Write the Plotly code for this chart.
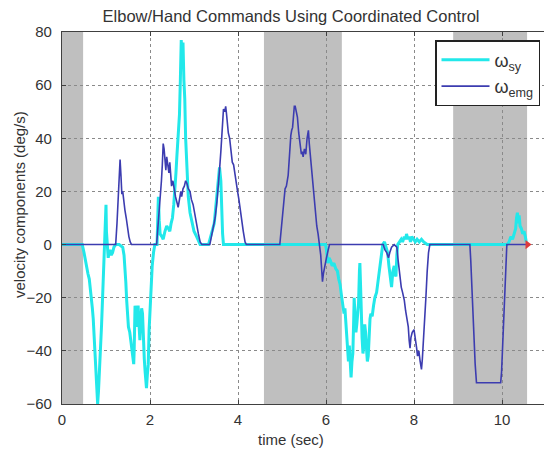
import plotly.graph_objects as go

# ---------------- data ----------------
t_sy = [0.00, 0.46, 0.50, 0.53, 0.56, 0.59, 0.62, 0.65, 0.67, 0.69, 0.71, 0.73, 0.75, 0.77, 0.79, 0.80,
        0.81, 0.83, 0.84, 0.86, 0.88, 0.90, 0.92, 0.94, 0.96, 0.98, 0.99, 1.00, 1.01, 1.03, 1.05, 1.07,
        1.09, 1.12, 1.15, 1.18, 1.22, 1.30, 1.38, 1.41, 1.43, 1.45, 1.47, 1.49, 1.51, 1.54, 1.56, 1.58,
        1.61, 1.63, 1.64, 1.66, 1.68, 1.70, 1.72, 1.73, 1.75, 1.77, 1.79, 1.81, 1.83, 1.85, 1.87, 1.89,
        1.91, 1.92, 1.94, 1.96, 1.98, 2.00, 2.02, 2.05, 2.08, 2.11, 2.16, 2.18, 2.19, 2.21, 2.23, 2.27,
        2.30, 2.34, 2.38, 2.42, 2.45, 2.48, 2.51, 2.54, 2.57, 2.59, 2.61, 2.63, 2.65, 2.67, 2.69, 2.71,
        2.73, 2.75, 2.77, 2.79, 2.81, 2.83, 2.85, 2.87, 2.91, 2.95, 3.00, 3.06, 3.14, 3.33, 3.38, 3.42,
        3.46, 3.50, 3.53, 3.56, 3.58, 3.61, 3.63, 3.65, 3.67, 5.99, 6.01, 6.04, 6.07, 6.10, 6.14, 6.18,
        6.22, 6.26, 6.29, 6.32, 6.35, 6.38, 6.41, 6.43, 6.45, 6.47, 6.49, 6.51, 6.53, 6.55, 6.57, 6.59,
        6.61, 6.63, 6.64, 6.66, 6.68, 6.70, 6.72, 6.74, 6.76, 6.77, 6.79, 6.80, 6.82, 6.84, 6.86, 6.88,
        6.90, 6.92, 6.94, 6.96, 6.98, 7.00, 7.02, 7.05, 7.08, 7.11, 7.15, 7.19, 7.23, 7.26, 7.29, 7.33,
        7.37, 7.40, 7.43, 7.46, 7.49, 7.52, 7.55, 7.57, 7.59, 7.61, 7.63, 7.67, 7.71, 7.74, 7.78, 7.81,
        7.83, 7.86, 7.89, 7.92, 7.95, 7.99, 8.03, 8.07, 8.12, 8.17, 8.22, 8.30, 10.12, 10.16, 10.20, 10.24,
        10.28, 10.31, 10.33, 10.35, 10.37, 10.39, 10.41, 10.44, 10.47, 10.50, 10.53, 10.55]
w_sy = [0, 0, -3, -6, -8, -11, -13, -17, -21, -24, -28, -34, -40, -45, -50, -56,
        -60, -55, -52, -44, -38, -30, -21, -12, -2, 8, 14, 15, 5, -2, -5, -3,
        -2, -4, -3, -1, 0, 0, -1, -4, -8, -14, -21, -26, -31, -33, -36, -38,
        -42, -45, -40, -23, -27, -31, -25, -23, -30, -36, -29, -24, -26, -37, -43, -48,
        -52, -54, -49, -45, -32, -24, -17, -8, -3, 0, 0, 10, 18, 9, 4, 3,
        2, 5, 7, 6, 5, 8, 10, 15, 21, 27, 33, 38, 45, 49, 62, 77,
        70, 76, 62, 55, 40, 31, 24, 18, 12, 9, 5, 3, 0, 0, 3, 5,
        8, 15, 20, 25, 29, 24, 12, 4, 0, 0, -2, -7, -5, -6, -8, -7,
        -9, -10, -13, -15, -19, -23, -26, -24, -29, -34, -40, -44, -38, -46, -50, -44,
        -41, -28, -20, -27, -33, -30, -26, -22, -10, -7, -18, -26, -35, -41, -38, -30,
        -33, -39, -44, -42, -34, -28, -26, -27, -23, -20, -18, -13, -8, -3, 0, 1,
        -1, -3, -8, -13, -16, -10, -8, -11, -12, -4, 0, 1, 2, 1, 3, 2,
        4, 2, 3, 1, 3, 2, 1, 2, 1, 2, 1, 0, 0, 1, 3, 2,
        5, 6, 10, 12, 8, 11, 7, 6, 4, 5, 3, 1]

t_emg = [0.00, 1.22, 1.25, 1.28, 1.30, 1.32, 1.34, 1.36, 1.38, 1.40, 1.43, 1.46, 1.49, 1.52, 1.55, 1.58,
         2.15, 2.18, 2.21, 2.23, 2.26, 2.28, 2.30, 2.32, 2.34, 2.36, 2.38, 2.41, 2.43, 2.45, 2.47, 2.49,
         2.52, 2.55, 2.58, 2.61, 2.64, 2.67, 2.70, 2.72, 2.75, 2.78, 2.81, 2.84, 2.87, 2.91, 2.94, 2.98,
         3.02, 3.06, 3.10, 3.14, 3.18, 3.36, 3.40, 3.44, 3.48, 3.52, 3.55, 3.58, 3.61, 3.63, 3.65, 3.67,
         3.70, 3.72, 3.74, 3.76, 3.78, 3.81, 3.84, 3.87, 3.90, 3.93, 3.96, 3.99, 4.02, 4.05, 4.08, 4.12,
         4.16, 4.19, 4.95, 4.98, 5.01, 5.04, 5.07, 5.10, 5.14, 5.16, 5.18, 5.20, 5.22, 5.24, 5.26, 5.28,
         5.30, 5.33, 5.35, 5.38, 5.41, 5.44, 5.46, 5.48, 5.51, 5.54, 5.57, 5.60, 5.62, 5.65, 5.68, 5.71,
         5.74, 5.77, 5.79, 5.82, 5.84, 5.86, 5.88, 5.90, 5.92, 5.94, 5.96, 5.98, 6.01, 6.05, 6.08, 7.30,
         7.34, 7.38, 7.42, 7.45, 7.49, 7.55, 7.61, 7.64, 7.68, 7.71, 7.74, 7.78, 7.81, 7.84, 7.87, 7.89,
         7.91, 7.93, 7.96, 8.00, 8.03, 8.06, 8.08, 8.11, 8.14, 8.17, 8.19, 8.21, 8.24, 8.27, 8.30, 8.33,
         8.36, 9.27, 9.29, 9.31, 9.33, 9.35, 9.37, 9.39, 9.42, 9.97, 9.99, 10.01, 10.04, 10.07, 10.09, 10.11,
         10.56]
w_emg = [0, 0, 8, 20, 28, 32, 26, 19, 20, 16, 13, 10, 6, 3, 1, 0,
         0, 6, 12, 16, 24, 30, 38, 36, 31, 28, 33, 30, 27, 31, 26, 22,
         24, 20, 18, 16, 14, 17, 20, 18, 21, 22, 24, 23, 21, 20, 17, 15,
         11, 8, 4, 1, 0, 0, 3, 7, 10, 16, 21, 28, 35, 40, 47, 51,
         50, 52, 49, 45, 42, 40, 35, 31, 30, 26, 23, 20, 17, 13, 10, 5,
         1, 0, 0, 5, 11, 17, 21, 22, 26, 31, 37, 41, 43, 44, 48, 52,
         52, 50, 48, 42, 37, 34, 35, 33, 36, 34, 40, 43, 38, 32, 26, 20,
         15, 10, 7, 4, 1, 0, -4, -9, -14, -11, -9, -8, -5, -2, 0, 0,
         -2, -3, -5, -3, -1, 0, -1, -6, -13, -16, -18, -21, -25, -28, -31, -36,
         -39, -35, -33, -32, -35, -39, -42, -40, -44, -47, -43, -38, -30, -20, -10, -3,
         0, 0, -6, -14, -24, -33, -40, -45, -52, -52, -48, -40, -30, -21, -10, 0,
         0]

band_start = [0.0, 4.59, 8.89]
band_end = [0.48, 6.36, 10.57]

marker_t = [10.58]
marker_v = [0]

x_ticks = [0, 2, 4, 6, 8, 10]
y_ticks = [-60, -40, -20, 0, 20, 40, 60, 80]

# ---------------- figure ----------------
fig = go.Figure()
fig.add_trace(go.Scatter(x=t_sy, y=w_sy, mode="lines", name="ω<sub>sy</sub>",
                         line=dict(color="#22e8ea", width=3)))
fig.add_trace(go.Scatter(x=t_emg, y=w_emg, mode="lines", name="ω<sub>emg</sub>",
                         line=dict(color="#3c3cb0", width=1.6)))
fig.add_trace(go.Scatter(x=marker_t, y=marker_v, mode="markers", showlegend=False,
                         marker=dict(symbol="triangle-right", color="#e03a3a", size=8)))

for s, e in zip(band_start, band_end):
    fig.add_shape(type="rect", xref="x", yref="paper", x0=s, x1=e, y0=0, y1=1,
                  fillcolor="#bfbfbf", line=dict(width=0), layer="below")

fnt = "Liberation Sans, Arial, sans-serif"
fig.update_layout(
    width=544, height=454,
    margin=dict(l=62, r=0, t=32, b=50),
    paper_bgcolor="white", plot_bgcolor="white",
    font=dict(family=fnt, size=15, color="#333333"),
    title=dict(text="Elbow/Hand Commands Using Coordinated Control",
               x=0.535, xref="container", xanchor="center",
               y=1 - 16 / 454, yref="container", yanchor="middle",
               font=dict(size=16.5, color="#333333", family=fnt)),
    showlegend=True,
    legend=dict(x=(435 - 62) / 482, y=(404 - 40) / 372, xanchor="left", yanchor="top",
                bgcolor="white", bordercolor="#222222", borderwidth=1.5,
                itemwidth=48, tracegroupgap=0,
                font=dict(size=18, color="#333333", family=fnt)),
    xaxis=dict(range=[0, 482 / 44], tickvals=x_ticks, ticks="inside", ticklen=4,
               tickcolor="#404040", showline=True, linecolor="#404040", linewidth=1.2,
               mirror="ticks", showgrid=True, gridcolor="#8a8a8a", griddash="dot",
               gridwidth=1, zeroline=False, ticklabelstandoff=2),
    yaxis=dict(range=[-60, 80], tickvals=y_ticks, ticks="inside", ticklen=4,
               tickcolor="#404040", showline=True, linecolor="#404040", linewidth=1.2,
               showgrid=True, gridcolor="#8a8a8a", griddash="dot", gridwidth=1,
               zeroline=False, ticklabelstandoff=6),
    annotations=[
        dict(text="time (sec)", xref="paper", yref="paper", x=(291 - 62) / 482,
             y=(404 - 440) / 372, xanchor="center", yanchor="middle", showarrow=False,
             font=dict(size=15, color="#333333", family=fnt)),
        dict(text="velocity components (deg/s)", xref="paper", yref="paper",
             x=(19 - 62) / 482, y=(404 - 205) / 372, xanchor="center", yanchor="middle",
             textangle=-90, showarrow=False,
             font=dict(size=15, color="#333333", family=fnt)),
    ],
)

fig.write_html("out.html")
